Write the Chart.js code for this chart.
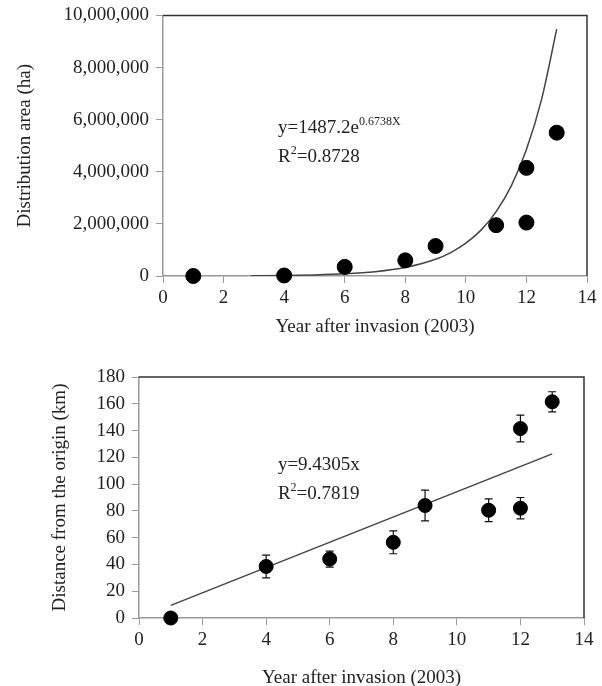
<!DOCTYPE html>
<html>
<head>
<meta charset="utf-8">
<script src="https://cdn.jsdelivr.net/npm/chart.js@4"></script>
<style>
    body { margin: 0; background: #fff; overflow: hidden; }
    #top-wrap { position: absolute; left: 0; top: -3px; width: 602px; height: 348px; }
    #bottom-wrap { position: absolute; left: 0; top: 345px; width: 602px; height: 341px; }
</style>
</head>
<body>
<div id="top-wrap"><canvas id="area-chart"></canvas></div>
<div id="bottom-wrap"><canvas id="dist-chart"></canvas></div>
<script>
// values
const years = [1, 4, 6, 8, 9, 11, 12, 12, 13];
const areaHa = [0, 20000, 350000, 600000, 1150000, 1950000, 2050000, 4150000, 5500000];
const areaFitX = [2.9, 4, 5, 6, 7, 8, 9, 9.5, 10, 10.5, 11, 11.5, 12, 12.5, 13];
const areaFitY = [10500, 22000, 43000, 85000, 167000, 327000, 642000, 900000, 1260000, 1760000, 2470000, 3460000, 4850000, 6780000, 9470000];

const distKm = [0, 38.5, 44, 56.5, 84, 80.5, 82, 141.5, 161.5];
const distErr = [0, 8.5, 6, 8.5, 11.5, 8.5, 8, 10, 7.5];
const distFitX = [1, 13];
const distFitY = [9.4, 122.6];

const xTitle = 'Year after invasion (2003)';
const areaTitle = 'Distribution area (ha)';
const distTitle = 'Distance from the origin (km)';

const FONT = 'Liberation Serif';
const TEXT = '#222';
const AXIS = '#999';

Chart.defaults.font.family = FONT;
Chart.defaults.font.size = 19;
Chart.defaults.color = TEXT;

function toXY(xs, ys) {
    return xs.map((x, i) => ({ x: x, y: ys[i] }));
}

// draw text with superscript parts
function drawRich(ctx, x, y, parts) {
    parts.forEach(p => {
        ctx.font = (p.sup ? 12 : 19) + 'px "' + FONT + '"';
        ctx.fillText(p.text, x, p.sup ? y - 8 : y);
        x += ctx.measureText(p.text).width;
    });
}

const frame = {
    id: 'frame',
    beforeDatasetsDraw(chart) {
        const { ctx, chartArea: a } = chart;
        ctx.save();
        ctx.strokeStyle = '#333';
        ctx.lineWidth = 1.5;
        ctx.beginPath();
        ctx.moveTo(a.left, a.top);
        ctx.lineTo(a.right, a.top);
        ctx.lineTo(a.right, a.bottom);
        ctx.stroke();
        ctx.restore();
    }
};

function equationPlugin(xVal, y1, y2, line1, line2) {
    return {
        id: 'equation',
        afterDatasetsDraw(chart) {
            const { ctx, scales } = chart;
            const px = scales.x.getPixelForValue(xVal);
            ctx.save();
            ctx.fillStyle = TEXT;
            ctx.textBaseline = 'alphabetic';
            drawRich(ctx, px, scales.y.getPixelForValue(y1), line1);
            drawRich(ctx, px, scales.y.getPixelForValue(y2), line2);
            ctx.restore();
        }
    };
}

const errorBars = {
    id: 'errorBars',
    beforeDatasetsDraw(chart) {
        const { ctx, scales } = chart;
        ctx.save();
        ctx.strokeStyle = '#111';
        ctx.lineWidth = 1.2;
        years.forEach((yr, i) => {
            if (!distErr[i]) return;
            const px = scales.x.getPixelForValue(yr);
            const top = scales.y.getPixelForValue(distKm[i] + distErr[i]);
            const bot = scales.y.getPixelForValue(distKm[i] - distErr[i]);
            ctx.beginPath();
            ctx.moveTo(px, top); ctx.lineTo(px, bot);
            ctx.moveTo(px - 4, top); ctx.lineTo(px + 4, top);
            ctx.moveTo(px - 4, bot); ctx.lineTo(px + 4, bot);
            ctx.stroke();
        });
        ctx.restore();
    }
};

function axes(yMax, yStep, yTitle, yWidth, xHeight, yTitlePad, xTitlePad, fmt) {
    return {
        x: {
            type: 'linear', min: 0, max: 14,
            afterFit: s => { s.height = xHeight; },
            ticks: { stepSize: 2, padding: 4 },
            grid: { drawOnChartArea: false, color: AXIS, tickLength: 7 },
            border: { color: AXIS, width: 1.5 },
            title: { display: true, text: xTitle, padding: { top: 0, bottom: xTitlePad } }
        },
        y: {
            type: 'linear', min: 0, max: yMax,
            afterFit: s => { s.width = yWidth; },
            ticks: { stepSize: yStep, padding: 7, callback: fmt },
            grid: { drawOnChartArea: false, color: AXIS, tickLength: 7 },
            border: { color: AXIS, width: 1.5 },
            title: { display: true, text: yTitle, padding: { top: yTitlePad, bottom: 0 } }
        }
    };
}

new Chart(document.getElementById('area-chart'), {
    type: 'scatter',
    data: {
        datasets: [{
            label: 'Area',
            data: toXY(years, areaHa),
            backgroundColor: '#000',
            borderColor: '#000',
            pointRadius: 7.5,
            clip: false
        }, {
            label: 'Fit',
            data: toXY(areaFitX, areaFitY),
            showLine: true,
            pointRadius: 0,
            borderColor: '#444',
            borderWidth: 1.5,
            cubicInterpolationMode: 'monotone'
        }]
    },
    options: {
        responsive: true,
        maintainAspectRatio: false,
        animation: false,
        layout: { padding: { top: 11, right: 15, left: 0, bottom: 0 } },
        plugins: { legend: { display: false }, tooltip: { enabled: false } },
        scales: axes(10000000, 2000000, areaTitle, 163, 69, 14, 7, v => v.toLocaleString('en-US'))
    },
    plugins: [frame, equationPlugin(3.8, 5480000, 4370000,
        [{ text: 'y=1487.2e' }, { text: '0.6738X', sup: true }],
        [{ text: 'R' }, { text: '2', sup: true }, { text: '=0.8728' }])]
});

new Chart(document.getElementById('dist-chart'), {
    type: 'scatter',
    data: {
        datasets: [{
            label: 'Distance',
            data: toXY(years, distKm),
            backgroundColor: '#000',
            borderColor: '#000',
            pointRadius: 7,
            clip: false
        }, {
            label: 'Fit',
            data: toXY(distFitX, distFitY),
            showLine: true,
            pointRadius: 0,
            borderColor: '#444',
            borderWidth: 1.5
        }]
    },
    options: {
        responsive: true,
        maintainAspectRatio: false,
        animation: false,
        layout: { padding: { top: 32, right: 18, left: 0, bottom: 0 } },
        plugins: { legend: { display: false }, tooltip: { enabled: false } },
        scales: axes(180, 20, distTitle, 139, 68, 49, -3)
    },
    plugins: [frame, errorBars, equationPlugin(4.37, 110.5, 88.9,
        [{ text: 'y=9.4305x' }],
        [{ text: 'R' }, { text: '2', sup: true }, { text: '=0.7819' }])]
});
</script>
</body>
</html>
